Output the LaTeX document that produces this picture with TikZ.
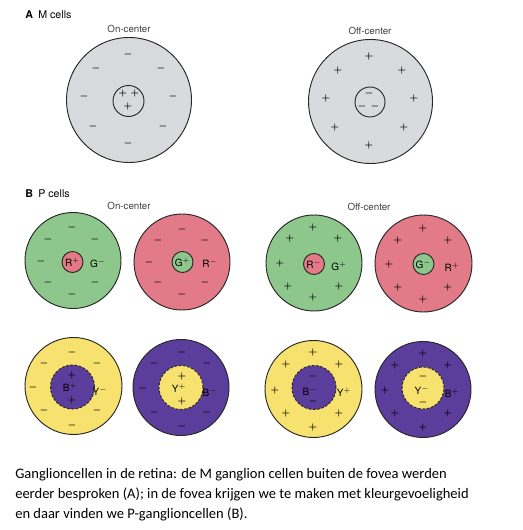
\documentclass[tikz,border=0pt]{standalone}
\usepackage{fontspec}
\setsansfont{TeX Gyre Heros}
\newfontfamily\capfont{Carlito}
\usetikzlibrary{positioning}

\definecolor{cellgray}{HTML}{D8DADD}
\definecolor{cellgreen}{HTML}{8EC78C}
\definecolor{cellred}{HTML}{E27A87}
\definecolor{cellyellow}{HTML}{F7E26F}
\definecolor{cellpurple}{HTML}{5B3D9B}

\tikzset{
  recep/.style={circle, draw=black!85, line width=0.7pt, inner sep=0pt, minimum size=#1},
  centre/.style={recep=#1, dash pattern=on 2pt off 1.2pt},
  sgn/.style={font=\fontsize{6.5}{6.5}\selectfont\boldmath, text=black, inner sep=0pt},
  lbl/.style={font=\sffamily\fontsize{7.5}{8}\selectfont, inner sep=0pt},
  head/.style={font=\sffamily\fontsize{8}{9}\selectfont, inner sep=0pt, anchor=west},
  sub/.style={font=\sffamily\fontsize{7.3}{8}\selectfont, text=black!75, inner sep=0pt}
}

\begin{document}
\begin{tikzpicture}[x=0.75pt,y=-0.75pt]
\useasboundingbox (0,0) rectangle (522,530);

\node[head] (ahead) at (25,15) {\textbf{A}\enspace M cells};
\node[sub] (aon) at (129,29) {On-center};
\node[sub] (aoff) at (370,31) {Off-center};

\node[recep=93.75pt, fill=cellgray] (mon) at (129,100) {};
\node[recep=23.25pt, fill=cellgray] (monc) at (128.5,101) {};
\foreach \p [count=\i] in {(128,55),(96,69),(161,69),(84,97),(173,97),(93,127),(163,127),(128,144)}
  \node[sgn] (monm\i) at \p {$-$};
\foreach \p [count=\i] in {(123,94),(135,94),(128,107)}
  \node[sgn] (monp\i) at \p {$+$};

\node[recep=93pt, fill=cellgray] (moff) at (370.5,101.5) {};
\node[recep=22.5pt, fill=cellgray] (moffc) at (370,102) {};
\foreach \p [count=\i] in {(369,57),(338,71),(402,71),(326,99),(414,99),(335,128),(404,128),(369,146)}
  \node[sgn] (moffp\i) at \p {$+$};
\foreach \p [count=\i] in {(369,94),(362,107),(375,107)}
  \node[sgn] (moffm\i) at \p {$-$};

\node[head] (bhead) at (25,194) {\textbf{B}\enspace P cells};
\node[sub] (bon) at (129,206) {On-center};
\node[sub] (boff) at (369,207) {Off-center};

% red-green
\node[recep=72pt, fill=cellgreen] (rgon) at (73,260.5) {};
\node[recep=15.75pt, fill=cellred] (rgonc) at (72.5,262) {};
\node[lbl] (rgonr) at (rgonc) {R$^{+}$};
\node[lbl] (rgong) at (98,263) {G$^{-}$};
\foreach \p [count=\i] in {(72,228),(48,240),(95,240),(41,261),(48,282),(95,282),(72,294)}
  \node[sgn] (rgonm\i) at \p {$-$};

\node[recep=72pt, fill=cellred] (gron) at (182,262) {};
\node[recep=15.75pt, fill=cellgreen] (gronc) at (182.5,262) {};
\node[lbl] (grong) at (gronc) {G$^{+}$};
\node[lbl] (gronr) at (210,263) {R$^{-}$};
\foreach \p [count=\i] in {(182,230),(158,241),(205,241),(149,262),(158,282),(205,282),(182,294)}
  \node[sgn] (gronm\i) at \p {$-$};

\node[recep=72pt, fill=cellgreen] (rgoff) at (314,263) {};
\node[recep=15.75pt, fill=cellred] (rgoffc) at (314,264) {};
\node[lbl] (rgoffr) at (rgoffc) {R$^{-}$};
\node[lbl] (rgoffg) at (339,266) {G$^{+}$};
\foreach \p [count=\i] in {(313,228),(290,239),(338,239),(280,263),(288,286),(339,286),(313,297)}
  \node[sgn] (rgoffp\i) at \p {$+$};

\node[recep=72.75pt, fill=cellred] (groff) at (423.5,263.5) {};
\node[recep=15.75pt, fill=cellgreen] (groffc) at (423.5,264) {};
\node[lbl] (groffg) at (groffc) {G$^{-}$};
\node[lbl] (groffr) at (452,267) {R$^{+}$};
\foreach \p [count=\i] in {(423,229),(398,241),(448,241),(389,265),(398,287),(448,287),(423,299)}
  \node[sgn] (groffp\i) at \p {$+$};

% blue-yellow
\node[recep=72.75pt, fill=cellyellow] (byon) at (73.5,386) {};
\node[centre=33pt, fill=cellpurple] (byonc) at (72.5,387) {};
\node[lbl] (byonb) at (70,387) {B$^{+}$};
\node[lbl] (byony) at (100,391) {Y$^{-}$};
\foreach \p [count=\i] in {(72,375),(72,400)}
  \node[sgn] (byonp\i) at \p {$+$};
\foreach \p [count=\i] in {(72,352),(44,363),(97,363),(33,387),(44,410),(97,410),(72,425)}
  \node[sgn] (byonm\i) at \p {$-$};

\node[recep=72pt, fill=cellpurple] (ybon) at (181,387.5) {};
\node[centre=33pt, fill=cellyellow] (ybonc) at (181,387.5) {};
\node[lbl] (ybony) at (179,388) {Y$^{+}$};
\node[lbl] (ybonb) at (210,392) {B$^{-}$};
\foreach \p [count=\i] in {(182,376),(182,401)}
  \node[sgn] (ybonp\i) at \p {$+$};
\foreach \p [count=\i] in {(182,352),(154,363),(207,363),(143,388),(154,412),(207,412),(182,426)}
  \node[sgn] (ybonm\i) at \p {$-$};

\node[recep=72.75pt, fill=cellyellow] (byoff) at (313.5,389) {};
\node[centre=33pt, fill=cellpurple] (byoffc) at (314,387.5) {};
\node[lbl] (byoffb) at (310,391) {B$^{-}$};
\node[lbl] (byoffy) at (344,392) {Y$^{+}$};
\foreach \p [count=\i] in {(313,376),(313,401)}
  \node[sgn] (byoffm\i) at \p {$-$};
\foreach \p [count=\i] in {(313,352),(286,364),(339,364),(275,390),(286,413),(339,413),(313,427)}
  \node[sgn] (byoffp\i) at \p {$+$};

\node[recep=72pt, fill=cellpurple] (yboff) at (423,389.5) {};
\node[centre=31.5pt, fill=cellyellow] (yboffc) at (423,388) {};
\node[lbl] (yboffy) at (422,390) {Y$^{-}$};
\node[lbl] (yboffb) at (452,393) {B$^{+}$};
\foreach \p [count=\i] in {(423,376),(423,402)}
  \node[sgn] (yboffm\i) at \p {$-$};
\foreach \p [count=\i] in {(423,353),(395,365),(448,365),(385,390),(395,413),(448,413),(423,427)}
  \node[sgn] (yboffp\i) at \p {$+$};

\node[anchor=north west, inner sep=0pt, align=left, font=\capfont\fontsize{10.9}{15}\selectfont] (caption) at (15,468)
  {Ganglioncellen in de retina: de M ganglion cellen buiten de fovea werden\\
   eerder besproken (A); in de fovea krijgen we te maken met kleurgevoeligheid\\
   en daar vinden we P-ganglioncellen (B).};
\end{tikzpicture}
\end{document}
